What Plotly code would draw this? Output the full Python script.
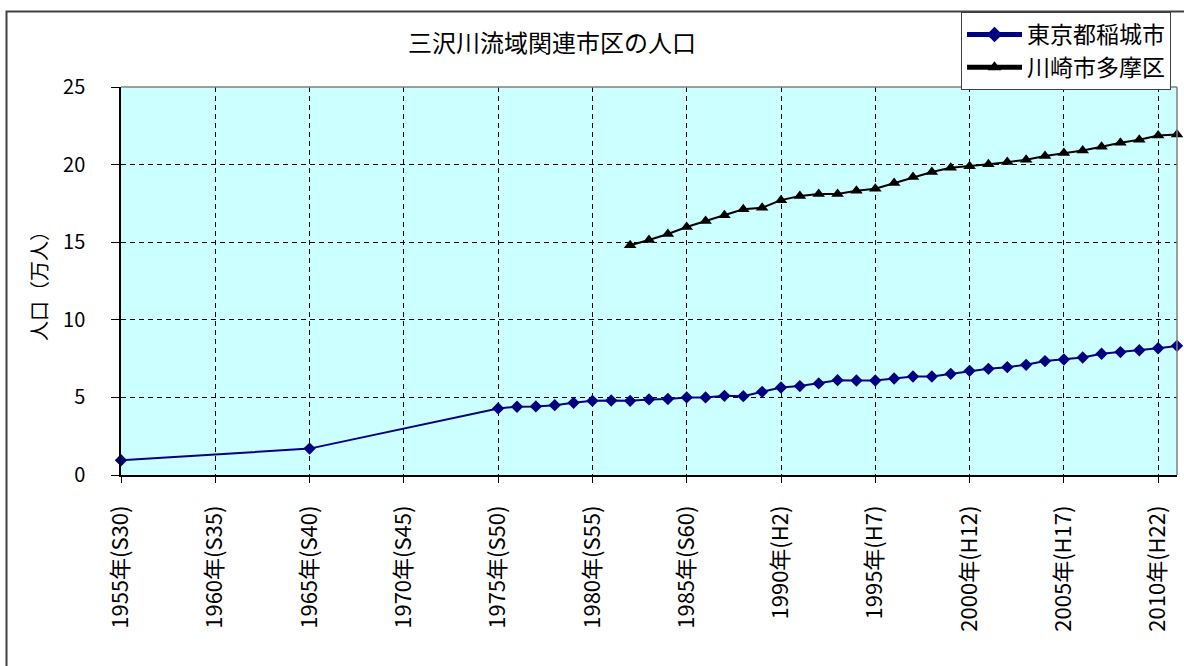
import plotly.graph_objects as go

# 人口（万人）: 東京都稲城市
inagi_years = [1955, 1965, 1975, 1976, 1977, 1978, 1979, 1980, 1981, 1982, 1983,
               1984, 1985, 1986, 1987, 1988, 1989, 1990, 1991, 1992, 1993, 1994,
               1995, 1996, 1997, 1998, 1999, 2000, 2001, 2002, 2003, 2004, 2005,
               2006, 2007, 2008, 2009, 2010, 2011]
inagi_pop = [0.95, 1.70, 4.29, 4.40, 4.42, 4.50, 4.65, 4.78, 4.80, 4.78, 4.87,
             4.90, 5.00, 5.00, 5.10, 5.08, 5.36, 5.64, 5.73, 5.90, 6.11, 6.09,
             6.09, 6.22, 6.35, 6.35, 6.52, 6.71, 6.84, 6.95, 7.10, 7.34, 7.44,
             7.57, 7.81, 7.92, 8.04, 8.17, 8.32]

# 人口（万人）: 川崎市多摩区
tama_years = [1982, 1983, 1984, 1985, 1986, 1987, 1988, 1989, 1990, 1991, 1992,
              1993, 1994, 1995, 1996, 1997, 1998, 1999, 2000, 2001, 2002, 2003,
              2004, 2005, 2006, 2007, 2008, 2009, 2010, 2011]
tama_pop = [14.80, 15.14, 15.53, 15.98, 16.37, 16.73, 17.12, 17.22, 17.71, 17.97,
            18.10, 18.10, 18.32, 18.45, 18.81, 19.20, 19.52, 19.80, 19.90, 20.03,
            20.16, 20.31, 20.55, 20.74, 20.91, 21.15, 21.41, 21.60, 21.88, 21.94]

tick_years = [1955, 1960, 1965, 1970, 1975, 1980, 1985, 1990, 1995, 2000, 2005, 2010]
tick_labels = ["1955年(S30)", "1960年(S35)", "1965年(S40)", "1970年(S45)",
               "1975年(S50)", "1980年(S55)", "1985年(S60)", "1990年(H2)",
               "1995年(H7)", "2000年(H12)", "2005年(H17)", "2010年(H22)"]

FONT = "Noto Sans CJK JP"
W, H = 1184, 666
ML, MR, MT, MB = 121, 7, 87, 191
PW, PH = W - ML - MR, H - MT - MB


def px_x(x):
    return (x - ML) / PW


def px_y(y):
    return (H - MB - y) / PH


fig = go.Figure()
fig.add_trace(go.Scatter(
    x=inagi_years, y=inagi_pop, name="東京都稲城市", mode="lines+markers",
    line=dict(color="#000080", width=2),
    marker=dict(symbol="diamond", size=9.5, color="#000080"),
    cliponaxis=False,
))
fig.add_trace(go.Scatter(
    x=tama_years, y=tama_pop, name="川崎市多摩区", mode="lines+markers",
    line=dict(color="#000000", width=2),
    marker=dict(symbol="triangle-up", size=11, color="#000000"),
    cliponaxis=False,
))

shapes = [
    # chart frame
    dict(type="rect", xref="paper", yref="paper",
         x0=px_x(6.5), x1=px_x(W + 30), y0=px_y(11.5), y1=px_y(H + 30),
         line=dict(color="#404040", width=2), fillcolor="rgba(0,0,0,0)", layer="below"),
    # plot-area top and right edges
    dict(type="line", xref="paper", yref="paper", x0=0, x1=1, y0=1, y1=1,
         line=dict(color="#808080", width=1.5)),
    dict(type="line", xref="paper", yref="paper", x0=1, x1=1, y0=0, y1=1,
         line=dict(color="#808080", width=1.5)),
]

fig.update_layout(
    width=W, height=H,
    margin=dict(l=ML, r=MR, t=MT, b=MB, autoexpand=False),
    paper_bgcolor="white",
    plot_bgcolor="#CCFFFF",
    font=dict(family=FONT, color="#000000"),
    title=dict(text="三沢川流域関連市区の人口", x=552 / W,
               xanchor="center", y=1 - 44 / H, yanchor="middle",
               font=dict(size=24, family=FONT, color="#000000")),
    showlegend=True,
    legend=dict(x=px_x(961), y=px_y(12), xanchor="left", yanchor="top",
                bgcolor="white", bordercolor="#404040", borderwidth=1,
                font=dict(size=23, family=FONT, color="#000000"),
                traceorder="normal", itemsizing="constant", itemwidth=55),
    shapes=shapes,
)

fig.update_xaxes(
    range=[1955, 2011],
    tickmode="array", tickvals=tick_years, ticktext=tick_labels,
    tickangle=-90, tickfont=dict(size=22, family=FONT, color="#000000"),
    ticks="outside", ticklen=6, tickcolor="#000000", tickwidth=1,
    ticklabelstandoff=14,
    showline=True, linecolor="#000000", linewidth=1.5,
    showgrid=True, gridcolor="#000000", gridwidth=1, griddash="5px,4px",
    zeroline=False,
)
fig.update_yaxes(
    range=[0, 25], dtick=5, tick0=0,
    tickfont=dict(size=20, family=FONT, color="#000000"),
    ticks="outside", ticklen=8, tickcolor="#000000", tickwidth=1,
    ticklabelstandoff=22,
    showline=True, linecolor="#000000", linewidth=1.5,
    showgrid=True, gridcolor="#000000", gridwidth=1, griddash="5px,4px",
    zeroline=False,
    title=dict(text="人口（万人）", font=dict(size=20, family=FONT, color="#000000"),
               standoff=10),
)

fig.write_html("out.html")
